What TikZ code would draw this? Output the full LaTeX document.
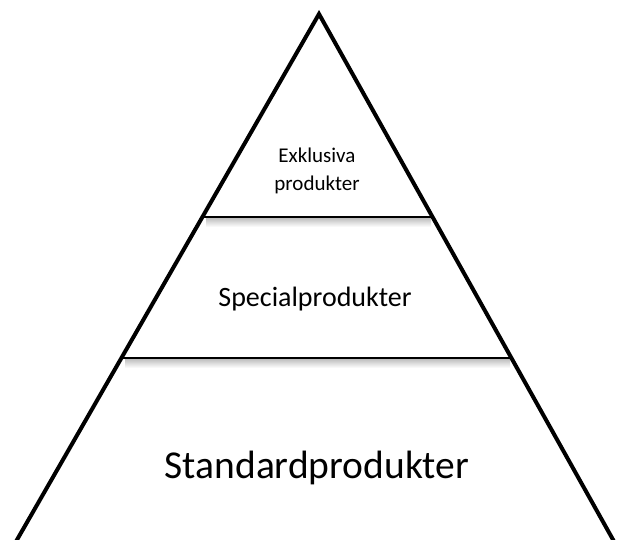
\documentclass[tikz,border=0pt]{standalone}
\usepackage{fontspec}
\setmainfont{Carlito}
\begin{document}
\begin{tikzpicture}[x=1pt,y=-1pt,
  edge/.style={draw=black,line width=4pt,line join=miter},
  tierline/.style={draw=black,line width=2.4pt},
  tiershadow/.style={top color=black!25,bottom color=white,draw=none},
  lbl/.style={anchor=base,inner sep=0pt,text=black}]
\useasboundingbox (0,0) rectangle (617,539);
\fill[white] (0,0) rectangle (617,539);
\clip (0,0) rectangle (617,539);
\coordinate (apex) at (319,14);
\coordinate (bl) at (14,545);
\coordinate (br) at (616,545);
\coordinate (a1) at (201,217);
\coordinate (b1) at (434,217);
\coordinate (a2) at (120,358);
\coordinate (b2) at (513,358);
\fill[tiershadow] (206,218) rectangle (431,227);
\fill[tiershadow] (125,359) rectangle (510,368);
\draw[tierline] (a1) -- (b1);
\draw[tierline] (a2) -- (b2);
\draw[edge] (bl) -- (apex) -- (br);
\node[lbl,font=\fontsize{21}{25}\selectfont] (t1) at (317,162) {Exklusiva};
\node[lbl,font=\fontsize{21}{25}\selectfont] (t2) at (317,190) {produkter};
\node[lbl,font=\fontsize{28}{32}\selectfont] (t3) at (315,306) {Specialprodukter};
\node[lbl,font=\fontsize{39.5}{45}\selectfont] (t4) at (317,478) {Standardprodukter};
\end{tikzpicture}
\end{document}
